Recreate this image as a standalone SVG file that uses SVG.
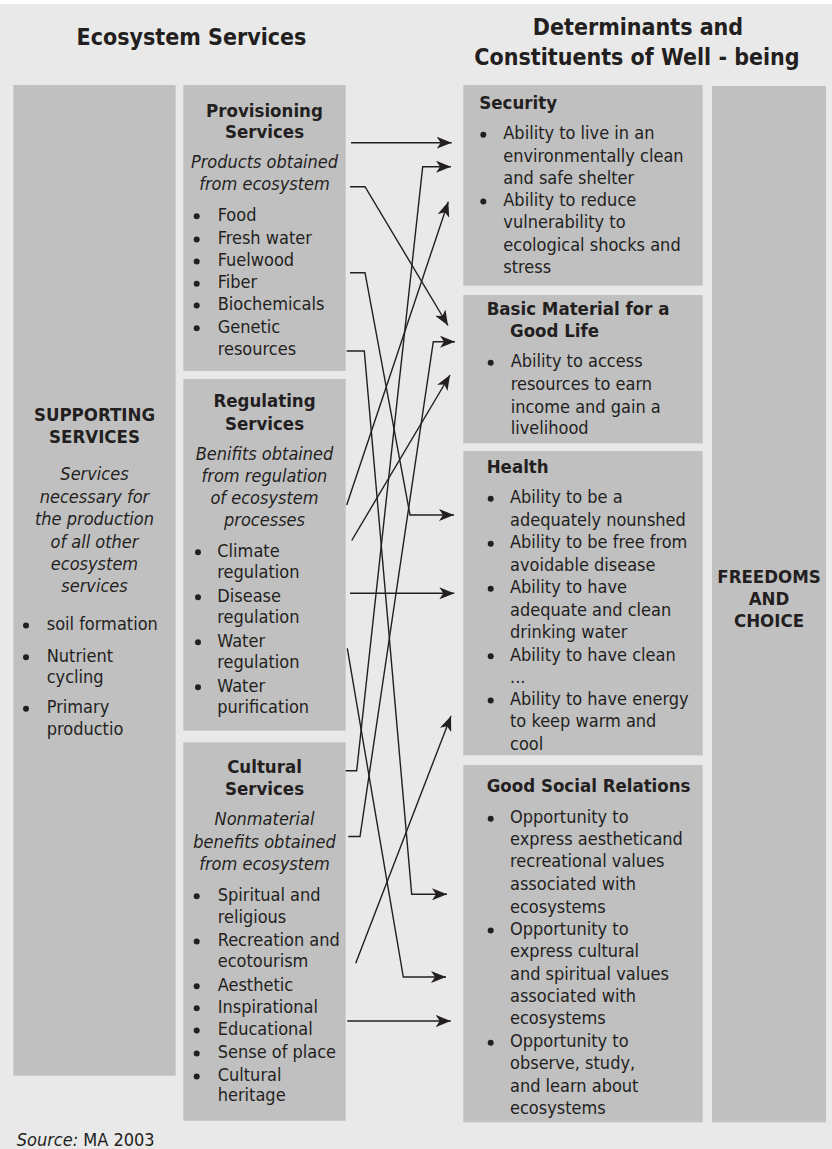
<svg xmlns="http://www.w3.org/2000/svg" width="832" height="1149" viewBox="0 0 832 1149">
  <style>
    text { font-family: "DejaVu Sans Condensed", "DejaVu Sans", sans-serif; font-stretch: condensed; fill: #231f20; font-size: 18px; }
    .head { font-size: 23px; font-weight: bold; text-anchor: middle; }
    .title { font-weight: bold; font-size: 18.5px; }
    .mid { text-anchor: middle; }
    .it { font-style: italic; }
    .box { fill: #c0c0c0; }
    .dot { fill: #231f20; }
    .conn { fill: none; stroke: #231f20; stroke-width: 1.4; marker-end: url(#arrow); }
  </style>
  <defs>
    <marker id="arrow" markerUnits="userSpaceOnUse" viewBox="0 0 15 12" refX="15" refY="6" markerWidth="15" markerHeight="12" orient="auto">
      <path d="M0,0 L15,6 L0,12 L4,6 Z" fill="#231f20"/>
    </marker>
  </defs>

  <!-- backdrop -->
  <rect x="0" y="0" width="832" height="1149" fill="#ffffff"/>
  <rect x="0" y="4" width="832" height="1145" fill="#e9e9e9"/>

  <!-- column headings -->
  <g id="headings">
    <text class="head" x="191.5" y="45">Ecosystem Services</text>
    <text class="head" x="638" y="35">Determinants and</text>
    <text class="head" x="637" y="65">Constituents of Well - being</text>
  </g>

  <!-- supporting services -->
  <g id="supporting">
    <rect class="box" x="13.3" y="85" width="162.4" height="990.7"/>
    <text class="title mid" x="94.5" y="420.7">SUPPORTING</text>
    <text class="title mid" x="94.5" y="443.3">SERVICES</text>
    <text class="it mid" x="94.5" y="480">Services</text>
    <text class="it mid" x="94.5" y="502.7">necessary for</text>
    <text class="it mid" x="94.5" y="525">the production</text>
    <text class="it mid" x="94.5" y="547.7">of all other</text>
    <text class="it mid" x="94.5" y="570">ecosystem</text>
    <text class="it mid" x="94.5" y="591.7">services</text>
    <circle class="dot" cx="26" cy="625.5" r="3"/>
    <text x="46.7" y="630">soil formation</text>
    <circle class="dot" cx="26" cy="657.2" r="3"/>
    <text x="46.7" y="661.7">Nutrient</text>
    <text x="46.7" y="683.3">cycling</text>
    <circle class="dot" cx="26" cy="708.8" r="3"/>
    <text x="46.7" y="713.3">Primary</text>
    <text x="46.7" y="735">productio</text>
  </g>

  <!-- provisioning services -->
  <g id="provisioning">
    <rect class="box" x="183.3" y="85" width="162.4" height="286"/>
    <text class="title mid" x="264.5" y="117.3">Provisioning</text>
    <text class="title mid" x="264.5" y="138.3">Services</text>
    <text class="it mid" x="264.5" y="168.3">Products obtained</text>
    <text class="it mid" x="264.5" y="190">from ecosystem</text>
    <circle class="dot" cx="196.7" cy="216.2" r="3"/>
    <text x="217.7" y="220.7">Food</text>
    <circle class="dot" cx="196.7" cy="239.5" r="3"/>
    <text x="217.7" y="244">Fresh water</text>
    <circle class="dot" cx="196.7" cy="261.5" r="3"/>
    <text x="217.7" y="266">Fuelwood</text>
    <circle class="dot" cx="196.7" cy="283.8" r="3"/>
    <text x="217.7" y="288.3">Fiber</text>
    <circle class="dot" cx="196.7" cy="305.5" r="3"/>
    <text x="217.7" y="310">Biochemicals</text>
    <circle class="dot" cx="196.7" cy="328.2" r="3"/>
    <text x="217.7" y="332.7">Genetic</text>
    <text x="217.7" y="355">resources</text>
  </g>

  <!-- regulating services -->
  <g id="regulating">
    <rect class="box" x="183.3" y="379" width="162.4" height="351.7"/>
    <text class="title mid" x="264.5" y="406.7">Regulating</text>
    <text class="title mid" x="264.5" y="430">Services</text>
    <text class="it mid" x="264.5" y="460">Benifits obtained</text>
    <text class="it mid" x="264.5" y="481.7">from regulation</text>
    <text class="it mid" x="264.5" y="504">of ecosystem</text>
    <text class="it mid" x="264.5" y="526">processes</text>
    <circle class="dot" cx="198" cy="552.2" r="3"/>
    <text x="217.3" y="556.7">Climate</text>
    <text x="217.3" y="578.3">regulation</text>
    <circle class="dot" cx="198" cy="597.2" r="3"/>
    <text x="217.3" y="601.7">Disease</text>
    <text x="217.3" y="623.3">regulation</text>
    <circle class="dot" cx="198" cy="642.2" r="3"/>
    <text x="217.3" y="646.7">Water</text>
    <text x="217.3" y="668.3">regulation</text>
    <circle class="dot" cx="198" cy="687.2" r="3"/>
    <text x="217.3" y="691.7">Water</text>
    <text x="217.3" y="713.3">purification</text>
  </g>

  <!-- cultural services -->
  <g id="cultural">
    <rect class="box" x="183.3" y="742.3" width="162.4" height="378.4"/>
    <text class="title mid" x="264.5" y="773.3">Cultural</text>
    <text class="title mid" x="264.5" y="795">Services</text>
    <text class="it mid" x="264.5" y="825">Nonmaterial</text>
    <text class="it mid" x="264.5" y="848.3">benefits obtained</text>
    <text class="it mid" x="264.5" y="870">from ecosystem</text>
    <circle class="dot" cx="196.7" cy="896.2" r="3"/>
    <text x="217.7" y="900.7">Spiritual and</text>
    <text x="217.7" y="922.7">religious</text>
    <circle class="dot" cx="196.7" cy="941.5" r="3"/>
    <text x="217.7" y="946">Recreation and</text>
    <text x="217.7" y="967.3">ecotourism</text>
    <circle class="dot" cx="196.7" cy="986.2" r="3"/>
    <text x="217.7" y="990.7">Aesthetic</text>
    <circle class="dot" cx="196.7" cy="1008.2" r="3"/>
    <text x="217.7" y="1012.7">Inspirational</text>
    <circle class="dot" cx="196.7" cy="1030.5" r="3"/>
    <text x="217.7" y="1035">Educational</text>
    <circle class="dot" cx="196.7" cy="1053.5" r="3"/>
    <text x="217.7" y="1058">Sense of place</text>
    <circle class="dot" cx="196.7" cy="1076.5" r="3"/>
    <text x="217.7" y="1081">Cultural</text>
    <text x="217.7" y="1101.3">heritage</text>
  </g>

  <!-- security -->
  <g id="security">
    <rect class="box" x="463.3" y="85" width="239.4" height="200.7"/>
    <text class="title" x="479.3" y="109.3">Security</text>
    <circle class="dot" cx="483.3" cy="134.8" r="3"/>
    <text x="503.3" y="139.3">Ability to live in an</text>
    <text x="503.3" y="161.7">environmentally clean</text>
    <text x="503.3" y="184">and safe shelter</text>
    <circle class="dot" cx="483.3" cy="201.5" r="3"/>
    <text x="503.3" y="206">Ability to reduce</text>
    <text x="503.3" y="228.3">vulnerability to</text>
    <text x="503.3" y="250.7">ecological shocks and</text>
    <text x="503.3" y="272.7">stress</text>
  </g>

  <!-- basic material -->
  <g id="basic-material">
    <rect class="box" x="463.3" y="295" width="239.4" height="148.3"/>
    <text class="title" x="486.7" y="315">Basic Material for a</text>
    <text class="title" x="510" y="337.3">Good Life</text>
    <circle class="dot" cx="490.7" cy="362.8" r="3"/>
    <text x="510.7" y="367.3">Ability to access</text>
    <text x="510.7" y="390">resources to earn</text>
    <text x="510.7" y="412.7">income and gain a</text>
    <text x="510.7" y="434">livelihood</text>
  </g>

  <!-- health -->
  <g id="health">
    <rect class="box" x="463.3" y="451" width="239.4" height="304.3"/>
    <text class="title" x="486.7" y="473.3">Health</text>
    <circle class="dot" cx="490.7" cy="498.8" r="3"/>
    <text x="510" y="503.3">Ability to be a</text>
    <text x="510" y="526">adequately nounshed</text>
    <circle class="dot" cx="490.7" cy="543.8" r="3"/>
    <text x="510" y="548.3">Ability to be free from</text>
    <text x="510" y="570.7">avoidable disease</text>
    <circle class="dot" cx="490.7" cy="588.8" r="3"/>
    <text x="510" y="593.3">Ability to have</text>
    <text x="510" y="615.7">adequate and clean</text>
    <text x="510" y="638.3">drinking water</text>
    <circle class="dot" cx="490.7" cy="656.2" r="3"/>
    <text x="510" y="660.7">Ability to have clean</text>
    <text x="510" y="682.7">...</text>
    <circle class="dot" cx="490.7" cy="700.5" r="3"/>
    <text x="510" y="705">Ability to have energy</text>
    <text x="510" y="727.3">to keep warm and</text>
    <text x="510" y="750">cool</text>
  </g>

  <!-- good social relations -->
  <g id="social-relations">
    <rect class="box" x="463.3" y="765" width="239.4" height="357.3"/>
    <text class="title" x="486.7" y="792.3">Good Social Relations</text>
    <circle class="dot" cx="490.7" cy="818.8" r="3"/>
    <text x="510" y="823.3">Opportunity to</text>
    <text x="510" y="845">express aestheticand</text>
    <text x="510" y="867.3">recreational values</text>
    <text x="510" y="890">associated with</text>
    <text x="510" y="912.7">ecosystems</text>
    <circle class="dot" cx="490.7" cy="930.5" r="3"/>
    <text x="510" y="935">Opportunity to</text>
    <text x="510" y="957.3">express cultural</text>
    <text x="510" y="980">and spiritual values</text>
    <text x="510" y="1002.3">associated with</text>
    <text x="510" y="1024.3">ecosystems</text>
    <circle class="dot" cx="490.7" cy="1042.8" r="3"/>
    <text x="510" y="1047.3">Opportunity to</text>
    <text x="510" y="1069.3">observe, study,</text>
    <text x="510" y="1091.7">and learn about</text>
    <text x="510" y="1114">ecosystems</text>
  </g>

  <!-- freedoms and choice -->
  <g id="freedoms">
    <rect class="box" x="712" y="86" width="114" height="1036.3"/>
    <text class="title mid" x="769" y="583">FREEDOMS</text>
    <text class="title mid" x="769" y="605">AND</text>
    <text class="title mid" x="769" y="627">CHOICE</text>
  </g>

  <!-- links from services to well-being -->
  <g id="connectors">
    <path class="conn" d="M351,142.7 H451.7"/>
    <path class="conn" d="M350,186.7 H365 L448,325.5"/>
    <path class="conn" d="M350,272.7 H365 L410,515 H454"/>
    <path class="conn" d="M346.7,351 H364.3 L411.7,894.3 H447"/>
    <path class="conn" d="M346.7,505 L448.3,201.7"/>
    <path class="conn" d="M351.7,540.5 L450,375"/>
    <path class="conn" d="M350,593.3 H454.3"/>
    <path class="conn" d="M347.3,648.3 L403.3,977 H446"/>
    <path class="conn" d="M345.7,770.7 H356.7 L422.7,166.7 H451"/>
    <path class="conn" d="M348.3,836.5 H360 L433.3,341.7 H455"/>
    <path class="conn" d="M355.7,963.3 L451,716"/>
    <path class="conn" d="M347.3,1021 H450.7"/>
  </g>

  <!-- source note -->
  <text id="source" x="16.7" y="1146"><tspan class="it">Source:</tspan> MA 2003</text>
</svg>
